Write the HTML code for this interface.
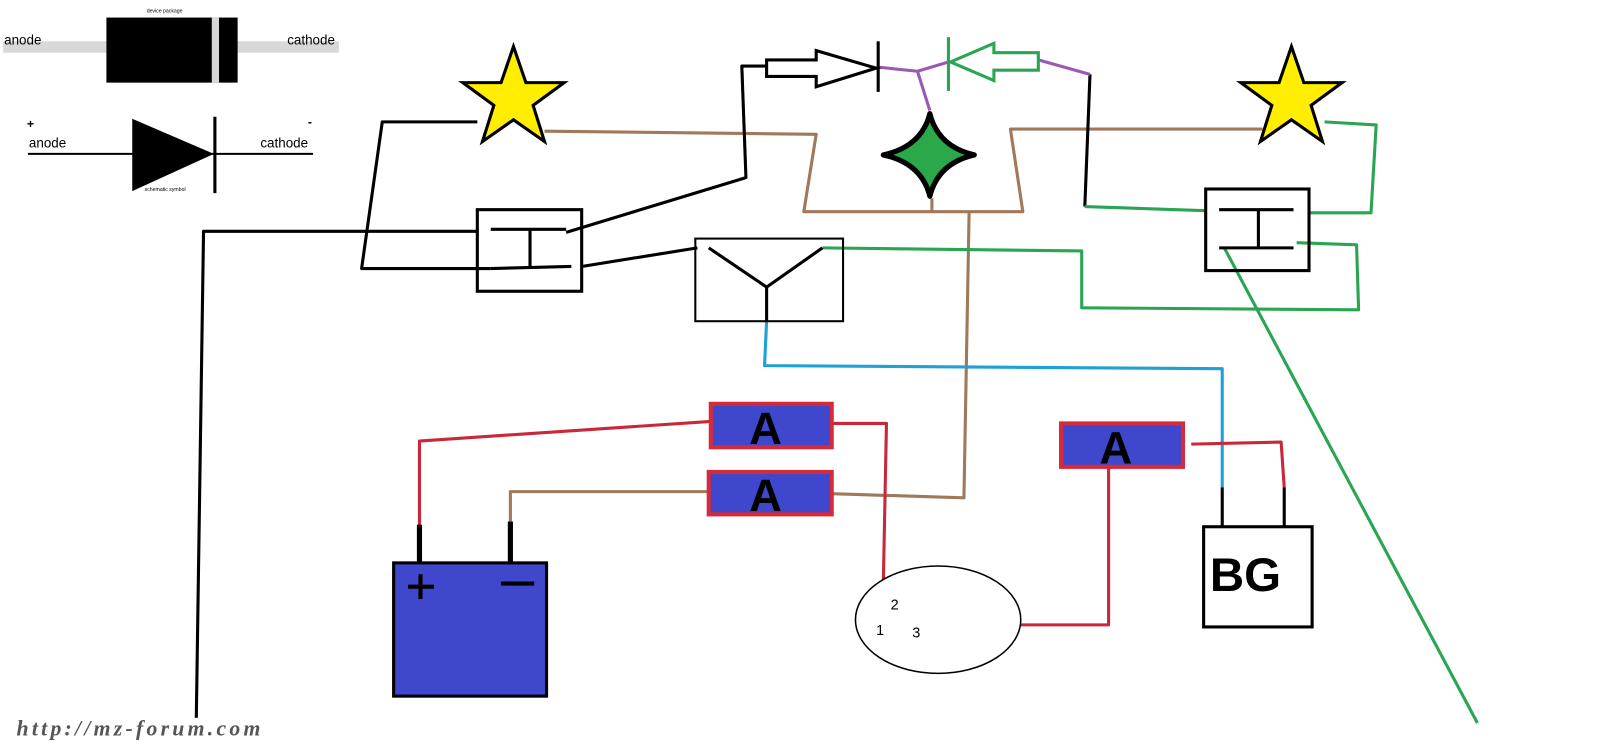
<!DOCTYPE html>
<html><head><style>
html,body{margin:0;padding:0;background:#fff;width:1620px;height:755px;overflow:hidden}
svg{display:block}
</style></head><body>
<svg width="1620" height="755" viewBox="0 0 1568 731" preserveAspectRatio="none" xmlns="http://www.w3.org/2000/svg" font-family="Liberation Sans, sans-serif">
<rect x="3" y="40" width="325" height="11" fill="#d8d8d8"/>
<rect x="103" y="17" width="127" height="63" fill="#000"/>
<rect x="205" y="17" width="7" height="63" fill="#d8d8d8"/>
<text x="4" y="43" font-size="13">anode</text>
<text x="278" y="43" font-size="13">cathode</text>
<text x="142" y="12" font-size="5">device package</text>
<line x1="27" y1="149" x2="303" y2="149" stroke="#000" stroke-width="2"/>
<polygon points="128,115 128,185 207,149" fill="#000"/>
<line x1="208" y1="113" x2="208" y2="187" stroke="#000" stroke-width="3"/>
<text x="26" y="124" font-size="12" font-weight="bold">+</text>
<text x="298" y="122" font-size="12" font-weight="bold">-</text>
<text x="28" y="143" font-size="13">anode</text>
<text x="252" y="143" font-size="13">cathode</text>
<text x="140" y="185" font-size="5">schematic symbol</text>

<g fill="none" stroke-width="3" stroke-linejoin="round">
<polyline stroke="#a0785a" points="527,127 790,130 778,205 990,205 978,125 1222,125"/>
<line stroke="#a0785a" x1="902" y1="192" x2="902" y2="205"/>
<polyline stroke="#a0785a" points="938,205 933,482 805,478"/>
<polyline stroke="#a0785a" points="686,476 494,476 494,510"/>
<polyline stroke="#000" points="742,64 718,64 722,172 548,225"/>
<polyline stroke="#000" points="462,118 370,118 350,260 475,260"/>
<polyline stroke="#000" points="462,224 197,224 190,695"/>
<line stroke="#000" x1="563" y1="258" x2="675" y2="240"/>
<polyline stroke="#000" points="1055,72 1050,200"/>
<polyline stroke="#9b59b6" points="850,65 888,69 918,60"/>
<polyline stroke="#9b59b6" points="888,69 900,107"/>
<polyline stroke="#9b59b6" points="1005,58 1055,72"/>
<polyline stroke="#1fa0d6" points="742,311 740,354 1183,357 1183,472"/>
<polyline stroke="#2aa552" points="796,240 1047,243 1047,298 1315,300 1313,237 1255,235"/>
<polyline stroke="#2aa552" points="1050,200 1167,204"/>
<polyline stroke="#2aa552" points="1267,206 1327,206 1332,121 1282,118"/>
<line stroke="#2aa552" x1="1185" y1="240" x2="1430" y2="700"/>
<polyline stroke="#c8283a" points="406,510 406,427 688,408"/>
<polyline stroke="#c8283a" points="805,410 858,410 855,563"/>
<polyline stroke="#c8283a" points="1073,452 1073,605 988,605"/>
<polyline stroke="#c8283a" points="1153,430 1240,428 1243,472"/>
</g>

<polygon points="742,58 790,58 790,49 848,66 790,84 790,74 742,74" fill="#fff" stroke="#000" stroke-width="3"/>
<line x1="850" y1="40" x2="850" y2="89" stroke="#000" stroke-width="3"/>
<polygon points="1005,51 962,51 962,42 920,60 962,78 962,68 1005,68" fill="#fff" stroke="#2aa552" stroke-width="3"/>
<line x1="918" y1="36" x2="918" y2="88" stroke="#2aa552" stroke-width="3"/>

<polygon points="497,45 509,80 546,80 516,102 527,137 497,116 467,137 478,102 448,80 485,80" fill="#ffee00" stroke="#000" stroke-width="3"/>
<polygon points="1250,45 1262,80 1299,80 1269,102 1280,137 1250,116 1220,137 1231,102 1201,80 1238,80" fill="#ffee00" stroke="#000" stroke-width="3"/>
<path d="M900,110 Q908,142 943,150 Q908,158 900,190 Q892,158 855,150 Q892,142 900,110 Z" fill="#2aa84a" stroke="#000" stroke-width="5" stroke-linejoin="round"/>

<rect x="462" y="203" width="101" height="79" fill="none" stroke="#000" stroke-width="3"/>
<line x1="475" y1="222" x2="548" y2="222" stroke="#000" stroke-width="3"/>
<line x1="513" y1="222" x2="513" y2="260" stroke="#000" stroke-width="3"/>
<line x1="475" y1="260" x2="553" y2="258" stroke="#000" stroke-width="3"/>
<rect x="673" y="231" width="143" height="80" fill="none" stroke="#000" stroke-width="2"/>
<polyline points="686,240 742,278 796,240" fill="none" stroke="#000" stroke-width="3"/>
<line x1="742" y1="278" x2="742" y2="311" stroke="#000" stroke-width="3"/>
<rect x="1167" y="183" width="100" height="79" fill="none" stroke="#000" stroke-width="3"/>
<line x1="1180" y1="203" x2="1252" y2="203" stroke="#000" stroke-width="3"/>
<line x1="1218" y1="203" x2="1218" y2="240" stroke="#000" stroke-width="3"/>
<line x1="1180" y1="240" x2="1252" y2="240" stroke="#000" stroke-width="3"/>

<g font-size="44" font-weight="bold" text-anchor="middle">
<rect x="688" y="391" width="117" height="42" fill="#3f48cc" stroke="#d42a3a" stroke-width="4"/>
<text x="741" y="430">A</text>
<rect x="686" y="457" width="119" height="41" fill="#3f48cc" stroke="#d42a3a" stroke-width="4"/>
<text x="741" y="495">A</text>
<rect x="1027" y="410" width="118" height="42" fill="#3f48cc" stroke="#d42a3a" stroke-width="4"/>
<text x="1080" y="449">A</text>
</g>

<line x1="406" y1="508" x2="406" y2="546" stroke="#000" stroke-width="5"/>
<line x1="494" y1="505" x2="494" y2="546" stroke="#000" stroke-width="5"/>
<rect x="381" y="545" width="148" height="129" fill="#3f48cc" stroke="#000" stroke-width="3"/>
<line x1="395" y1="568" x2="420" y2="568" stroke="#000" stroke-width="4"/>
<line x1="407" y1="556" x2="407" y2="580" stroke="#000" stroke-width="4"/>
<line x1="485" y1="565" x2="517" y2="565" stroke="#000" stroke-width="4"/>

<ellipse cx="908" cy="600" rx="80" ry="52" fill="#fff" stroke="#000" stroke-width="1.5"/>
<text x="862" y="590" font-size="14">2</text>
<text x="848" y="615" font-size="14">1</text>
<text x="883" y="617" font-size="14">3</text>

<line x1="1183" y1="472" x2="1183" y2="511" stroke="#000" stroke-width="3"/>
<line x1="1243" y1="472" x2="1243" y2="511" stroke="#000" stroke-width="3"/>
<rect x="1165" y="510" width="105" height="97" fill="#fff" stroke="#000" stroke-width="3"/>
<text x="1171" y="572" font-size="46" font-weight="bold">BG</text>

<text x="16" y="712" style="font-family:'Liberation Serif',serif" font-size="21" font-style="italic" font-weight="bold" fill="#555" textLength="236" lengthAdjust="spacing">http://mz-forum.com</text>
</svg>
</body></html>
